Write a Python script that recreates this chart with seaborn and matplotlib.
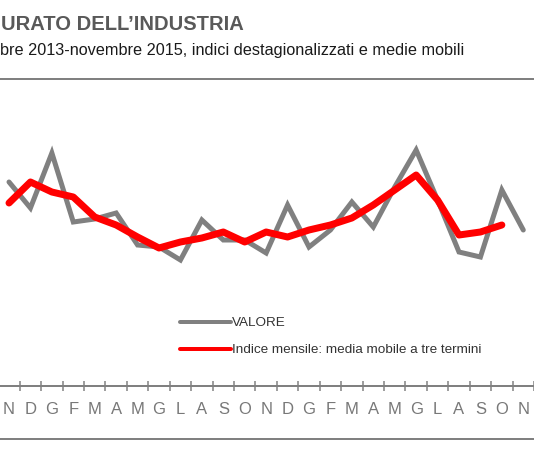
import matplotlib
matplotlib.use("Agg")
import matplotlib.pyplot as plt
import seaborn as sns
import pandas as pd
import numpy as np
from matplotlib.lines import Line2D

# ---- data (arbitrary index units, y-axis hidden) ----
months = ["N", "D", "G", "F", "M", "A", "M", "G", "L", "A", "S", "O",
          "N", "D", "G", "F", "M", "A", "M", "G", "L", "A", "S", "O", "N"]
valore = [101.8, 99.2, 104.7, 97.8, 98.1, 98.7, 95.5, 95.3, 94.0, 98.0, 96.0, 96.0,
          94.7, 99.5, 95.3, 97.0, 99.8, 97.3, 101.3, 105.0, 100.0, 94.8, 94.3, 101.0, 97.0]
media_mobile = [99.7, 101.8, 100.8, 100.3, 98.3, 97.5, 96.3, 95.2, 95.8, 96.2, 96.8, 95.8,
                96.8, 96.3, 97.0, 97.5, 98.2, 99.5, 101.0, 102.5, 100.0, 96.5, 96.8, 97.5]
label_valore = "VALORE"
label_media = "Indice mensile: media mobile a tre termini"
title = "URATO DELL\u2019INDUSTRIA"
subtitle = "bre 2013-novembre 2015, indici destagionalizzati e medie mobili"

df_v = pd.DataFrame({"x": np.arange(len(valore)), "y": valore})
df_m = pd.DataFrame({"x": np.arange(len(media_mobile)), "y": media_mobile})

sns.set_style("white")
plt.rcParams["font.family"] = ["Liberation Sans", "DejaVu Sans"]

W, H = 534, 462
fig = plt.figure(figsize=(W / 100, H / 100), dpi=100)
ax_left = -1.7 / W
ax_bottom = 1 - 386 / H
ax_top = 1 - 100 / H
ax = fig.add_axes([ax_left, ax_bottom, 1 - ax_left, ax_top - ax_bottom])

GRAY = "#808080"
RED = "#FF0000"
px = 0.72  # points per pixel at 100 dpi

sns.lineplot(data=df_v, x="x", y="y", ax=ax, color=GRAY, linewidth=5 * px,
             label=label_valore, solid_joinstyle="miter")
sns.lineplot(data=df_m, x="x", y="y", ax=ax, color=RED, linewidth=7 * px,
             label=label_media, solid_joinstyle="round")

ax.set_xlim(-0.5, len(months) - 0.5)
ax.set_ylim(81.4, 110.0)
ax.set_xlabel("")
ax.set_ylabel("")
ax.set_yticks([])
for s in ["top", "right", "left"]:
    ax.spines[s].set_visible(False)
ax.spines["bottom"].set_color(GRAY)
ax.spines["bottom"].set_linewidth(2 * px)

ax.set_xticks(np.arange(len(months)))
ax.set_xticklabels(months)
ax.set_xticks(np.arange(len(months) + 1) - 0.5, minor=True)
ax.tick_params(axis="x", which="major", length=0, pad=16 * px,
               labelsize=12, labelcolor="#787878")
ax.tick_params(axis="x", which="minor", length=10 * px, width=1.5 * px,
               color=GRAY, direction="inout", bottom=True)

leg = ax.legend(loc="upper left", bbox_to_anchor=(180 / W, 1 - 317 / H),
                bbox_transform=fig.transFigure, frameon=False,
                fontsize=9.7, handlelength=3.8, handletextpad=0.05,
                labelspacing=1.08, borderaxespad=0, borderpad=0)
for ln in leg.get_lines():
    ln.set_linewidth(4 * px)
for t in leg.get_texts():
    t.set_color("#333333")

fig.text(1 / W, 1 - 30 / H, title, fontsize=14.5, fontweight="bold",
         color="#595959", ha="left", va="baseline")
fig.text(0 / W, 1 - 55 / H, subtitle, fontsize=11.7, color="#1a1a1a",
         ha="left", va="baseline")

fig.add_artist(Line2D([0, 1], [1 - 79 / H, 1 - 79 / H], transform=fig.transFigure,
                      color=GRAY, linewidth=2 * px))
fig.add_artist(Line2D([0, 1], [1 - 439 / H, 1 - 439 / H], transform=fig.transFigure,
                      color=GRAY, linewidth=2 * px))

fig.savefig("out.png", dpi=100, facecolor="white")
